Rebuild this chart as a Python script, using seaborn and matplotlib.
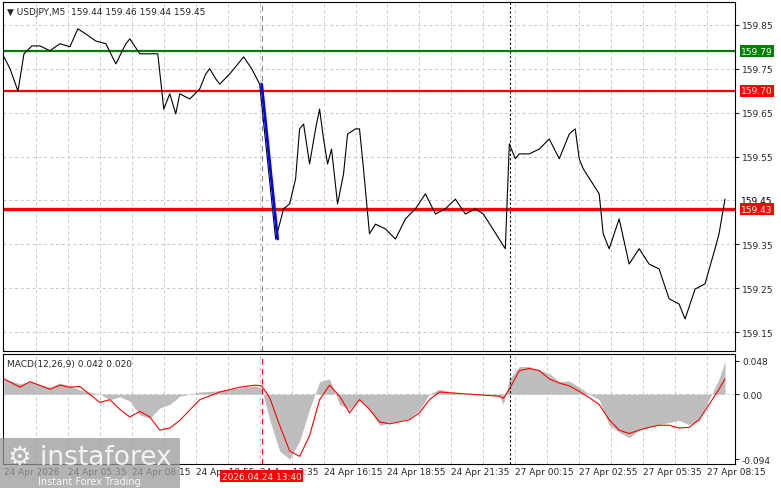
import numpy as np
import pandas as pd
import matplotlib
matplotlib.use("Agg")
import matplotlib.pyplot as plt
import seaborn as sns

# price readings (bar index, close)
price_bar = [0, 3, 7, 10, 14, 18, 23, 28, 33, 37, 41, 46, 51, 56, 61, 63, 68, 73, 77, 80, 83, 86, 88, 93, 98,
             101, 103, 106, 108, 113, 120, 124, 128, 136, 140, 143, 146, 148, 150, 153, 156, 158, 160, 162,
             164, 167, 170, 172, 176, 178, 180, 183, 186, 191, 196, 201, 206, 211, 216, 221, 226, 231, 236,
             240, 251, 253, 256, 258, 263, 268, 273, 278, 283, 286, 288, 290, 298, 300, 303, 308, 313, 318,
             323, 328, 333, 338, 341, 346, 351, 356, 358, 361]
price = [159.777, 159.750, 159.699, 159.784, 159.802, 159.802, 159.791, 159.807, 159.800, 159.841,
         159.829, 159.813, 159.807, 159.761, 159.807, 159.818, 159.784, 159.784, 159.784, 159.658,
         159.693, 159.647, 159.693, 159.681, 159.704, 159.738, 159.750, 159.727, 159.715, 159.738,
         159.777, 159.750, 159.715, 159.362, 159.431, 159.442, 159.499, 159.613, 159.624, 159.533,
         159.613, 159.658, 159.590, 159.533, 159.567, 159.442, 159.510, 159.601, 159.613, 159.613,
         159.522, 159.374, 159.396, 159.385, 159.362, 159.408, 159.431, 159.465, 159.419, 159.431,
         159.453, 159.419, 159.431, 159.419, 159.340, 159.579, 159.545, 159.556, 159.556, 159.567,
         159.590, 159.545, 159.601, 159.613, 159.545, 159.522, 159.465, 159.374, 159.340, 159.408,
         159.305, 159.340, 159.305, 159.294, 159.226, 159.214, 159.180, 159.248, 159.260, 159.340,
         159.374, 159.453]
# MACD readings (bar index, main, signal)
macd_bar = [0, 8, 13, 23, 28, 33, 38, 48, 53, 58, 63, 68, 73, 78, 83, 88, 98, 108, 118, 126, 129, 133, 138,
            143, 148, 153, 158, 163, 168, 173, 178, 183, 188, 193, 198, 203, 208, 213, 218, 228, 238, 248,
            250, 253, 258, 263, 268, 273, 278, 283, 288, 293, 298, 303, 308, 313, 318, 323, 328, 333, 338,
            343, 348, 353, 358, 361]
macd = [0.022, 0.015, 0.018, 0.010, 0.016, 0.012, 0.006, 0.000, -0.008, -0.004, -0.010, -0.030, -0.035,
        -0.020, -0.015, -0.003, 0.003, 0.005, 0.009, 0.012, 0.008, -0.037, -0.082, -0.094, -0.068, -0.022,
        0.018, 0.022, -0.015, -0.022, -0.008, -0.022, -0.045, -0.042, -0.038, -0.035, -0.023, 0.000, 0.007,
        0.001, -0.001, -0.003, -0.015, 0.022, 0.040, 0.040, 0.035, 0.030, 0.018, 0.019, 0.010, 0.000,
        -0.008, -0.045, -0.055, -0.063, -0.052, -0.048, -0.044, -0.041, -0.038, -0.044, -0.038, -0.008,
        0.022, 0.048]
signal = [0.022, 0.010, 0.018, 0.007, 0.013, 0.010, 0.011, -0.012, -0.008, -0.022, -0.033, -0.025, -0.033,
          -0.052, -0.049, -0.038, -0.008, 0.003, 0.010, 0.013, 0.012, -0.005, -0.045, -0.082, -0.090,
          -0.060, -0.008, 0.013, -0.003, -0.027, -0.008, -0.022, -0.040, -0.043, -0.040, -0.037, -0.027,
          -0.008, 0.003, 0.001, -0.001, -0.003, -0.006, 0.007, 0.034, 0.037, 0.034, 0.022, 0.016, 0.012,
          0.004, -0.005, -0.015, -0.037, -0.052, -0.057, -0.052, -0.048, -0.045, -0.045, -0.049, -0.048,
          -0.037, -0.015, 0.007, 0.022]
blue_bar = [129, 137]
blue_price = [159.715, 159.362]
green_level = 159.79
red_levels = [159.70, 159.43]
last_price = 159.45
price_ticks = [159.85, 159.75, 159.65, 159.55, 159.35, 159.25, 159.15]
time_labels = ["24 Apr 2026", "24 Apr 05:35", "24 Apr 08:15", "24 Apr 10:55", "24 Apr 13:35",
               "24 Apr 16:15", "24 Apr 18:55", "24 Apr 21:35", "27 Apr 00:15", "27 Apr 02:55",
               "27 Apr 05:35", "27 Apr 08:15"]

sns.set_style("white")
plt.rcParams["font.family"] = ["DejaVu Sans"]
fig = plt.figure(figsize=(7.81, 4.89), dpi=100)
ax = fig.add_axes([3 / 781, 1 - 352 / 489, 732 / 781, 349 / 489])
ax2 = fig.add_axes([3 / 781, 1 - 465 / 489, 732 / 781, 110 / 489])
xmax = 366

for a in (ax, ax2):
    a.set_xlim(-0.5, xmax)
    for s in a.spines.values():
        s.set_color("black"); s.set_linewidth(0.8)
    a.yaxis.tick_right()
    a.tick_params(axis="y", labelsize=6.5, length=3, pad=2)
    a.tick_params(axis="x", length=0)
    for xv in np.arange(16, xmax, 16):
        a.axvline(xv, color="#c8c8c8", ls=(0, (3, 3)), lw=0.7, zorder=0)

# main pane
ax.set_ylim(159.107, 159.902)
ax.set_yticks(price_ticks)
ax.set_yticklabels([f"{t:.2f}" for t in price_ticks])
for t in price_ticks + [159.45]:
    ax.axhline(t, color="#c8c8c8", ls=(0, (3, 3)), lw=0.7, zorder=0)
ax.set_xticks([])
ax.axvline(129, color="#888888", ls=(0, (5, 4)), lw=0.8)
ax.axvline(253.5, color="black", ls=(0, (2, 2)), lw=0.8)
ax.axhline(green_level, color="#008000", lw=1.6)
ax.axhline(red_levels[0], color="red", lw=1.6)
ax.axhline(red_levels[1], color="red", lw=2.4)
sns.lineplot(x=price_bar, y=price, ax=ax, color="black", lw=0.8)
sns.lineplot(x=blue_bar, y=blue_price, ax=ax, color="#0000ff", lw=2.0)
ax.set_xlabel(""); ax.set_ylabel("")
tr = ax.get_yaxis_transform()
for val, fc, tc in [(green_level, "#008000", "white"), (red_levels[0], "red", "white"),
                    (last_price, "white", "black"), (red_levels[1], "red", "white")]:
    ax.text(1.008, val, f"{val:.2f}", transform=tr, fontsize=6.5, color=tc, va="center", ha="left",
            bbox=dict(boxstyle="square,pad=0.15", fc=fc, ec="none"), clip_on=False)
ax.text(0.005, 0.985, "▼ USDJPY,M5  159.44 159.46 159.44 159.45", transform=ax.transAxes,
        fontsize=6.5, va="top")

# MACD pane
ax2.set_ylim(-0.101, 0.058)
ax2.set_yticks([0.048, 0.0, -0.094])
ax2.set_yticklabels(["0.048", "0.00", "-0.094"])
ax2.axhline(0, color="#c8c8c8", ls=(0, (3, 3)), lw=0.7, zorder=0)
ax2.fill_between(macd_bar, macd, 0, color="#bdbdbd", lw=0)
sns.lineplot(x=macd_bar, y=signal, ax=ax2, color="red", lw=0.8)
ax2.axvline(129, color="red", ls=(0, (5, 4)), lw=0.8)
ax2.axvline(253.5, color="black", ls=(0, (2, 2)), lw=0.8)
ax2.set_xlabel(""); ax2.set_ylabel("")
ax2.text(0.005, 0.95, "MACD(12,26,9) 0.042 0.020", transform=ax2.transAxes, fontsize=6.5, va="top")
ax2.set_xticks(np.arange(0, 32 * len(time_labels), 32))
ax2.set_xticklabels(time_labels, fontsize=6.5, ha="left")
ax2.tick_params(axis="x", pad=2)
ax2.text(129, -0.112, "2026.04.24 13:40", fontsize=6.5, color="white", ha="center", va="top",
         bbox=dict(boxstyle="square,pad=0.2", fc="red", ec="none"), clip_on=False, zorder=5)

# watermark
fig.patches.append(matplotlib.patches.Rectangle((0, 0), 180 / 781, 50 / 489, transform=fig.transFigure,
                                                 fc="#9a9a9a", alpha=0.75, ec="none"))
fig.text(8 / 781, 1 - 465 / 489, "⚙ instaforex", fontsize=19, color="white", alpha=0.85)
fig.text(38 / 781, 4 / 489, "Instant Forex Trading", fontsize=7, color="white", alpha=0.9)

fig.savefig("out.png", dpi=100)
